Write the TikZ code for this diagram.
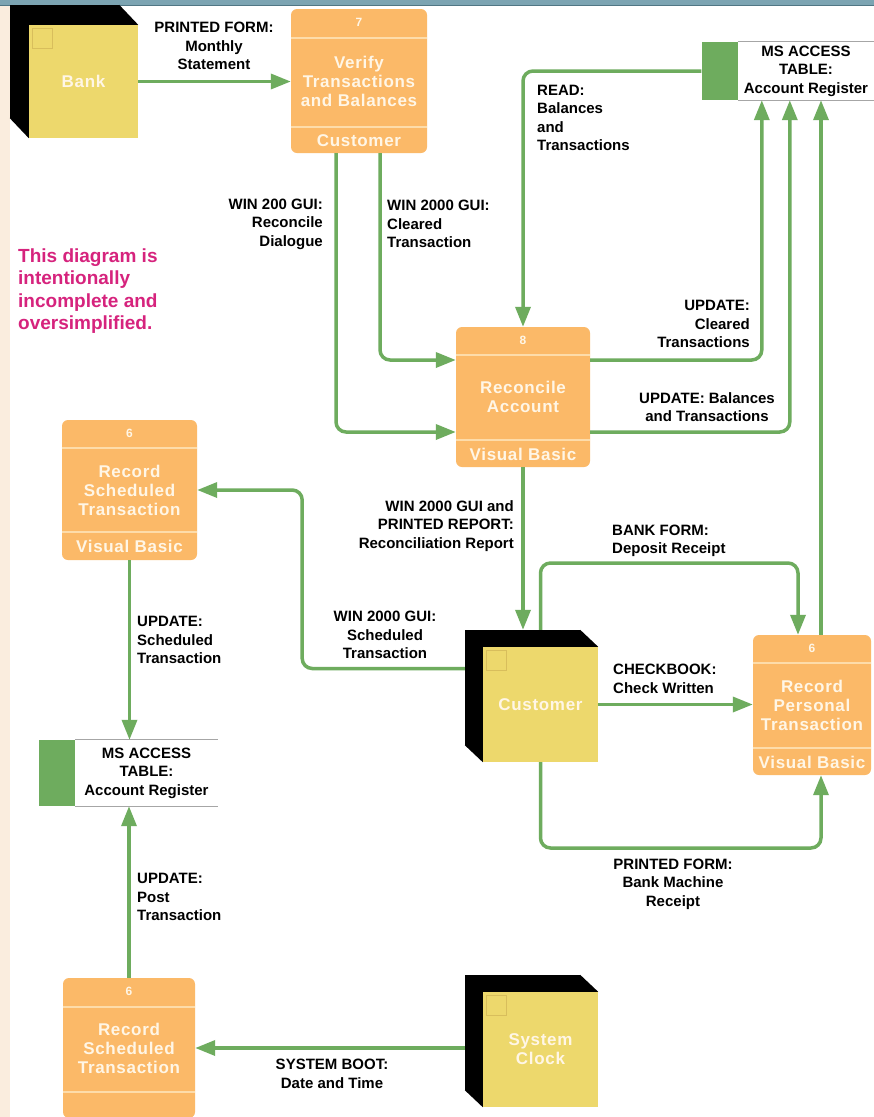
\documentclass[tikz,border=0pt]{standalone}
\usepackage{fontspec}
\setmainfont{Liberation Sans}
\newfontfamily\procfont[LetterSpace=4]{Liberation Sans}
\usepackage{tikz}
\usetikzlibrary{arrows.meta,backgrounds}

\definecolor{procfill}{RGB}{251,185,104}
\definecolor{procline}{RGB}{253,220,170}
\definecolor{proctext}{RGB}{255,246,230}
\definecolor{entfill}{RGB}{237,216,108}
\definecolor{entbox}{RGB}{216,190,92}
\definecolor{flowgreen}{RGB}{110,172,94}
\definecolor{notepink}{RGB}{214,35,125}
\definecolor{bandblue}{RGB}{124,164,178}
\definecolor{bandline}{RGB}{80,118,132}
\definecolor{leftbeige}{RGB}{250,237,222}

\begin{document}
\begin{tikzpicture}[x=1pt,y=-1pt,
  every node/.style={inner sep=0pt},
  lbl/.style={font=\fontsize{15}{18.5}\selectfont\bfseries, text=black},
  note/.style={font=\fontsize{19}{22.3}\selectfont\bfseries, text=notepink, align=left},
  proc/.style={fill=procfill, rounded corners=6pt},
  ptext/.style={font=\procfont\fontsize{17}{19}\selectfont\bfseries, text=proctext, align=center},
  pnum/.style={font=\fontsize{12}{14}\selectfont\bfseries, text=proctext},
  divide/.style={draw=procline, line width=1.5pt},
  entfront/.style={fill=entfill, minimum width=115pt, minimum height=115pt, font=\procfont\fontsize{17}{19}\selectfont\bfseries, text=proctext, align=center},
  entback/.style={fill=black, minimum width=115pt, minimum height=115pt},
  storebox/.style={lbl, align=center},
  storetab/.style={fill=flowgreen, minimum width=36pt},
  storeline/.style={draw=gray!70, line width=0.8pt},
  flow/.style={draw=flowgreen, line width=3.5pt, rounded corners=10pt, -{Triangle[length=20pt,width=15pt]}}
]
\useasboundingbox (0,0) rectangle (874,1117);
\clip (0,0) rectangle (874,1117);

\begin{scope}[on background layer]
\fill[white] (0,0) rectangle (874,1117);
\fill[leftbeige] (0,0) rectangle (10,1117);
\fill[bandblue] (0,0) rectangle (874,5);
\draw[bandline, line width=1pt] (0,5.5) -- (874,5.5);
\end{scope}

\node[entfront, minimum width=109pt, minimum height=113pt] (bank) at (83.5,81.5) {Bank};
\node[entfront] (cust) at (540.5,704.5) {Customer};
\node[entfront] (clk) at (540.5,1049.5) {System\\Clock};
\draw[entbox, line width=1pt] ([shift={(4,4)}]bank.north west) rectangle ++(20,20);
\draw[entbox, line width=1pt] ([shift={(4,4)}]cust.north west) rectangle ++(20,20);
\draw[entbox, line width=1pt] ([shift={(4,4)}]clk.north west) rectangle ++(20,20);

\begin{scope}[on background layer]
\node[entback, minimum width=109pt, minimum height=113pt] (bankb) at ([shift={(-19,-20)}]bank.center) {};
\fill (bankb.north east) -- (bank.north east) -- (bank.south west) -- (bankb.south west) -- cycle;
\node[entback] (custb) at ([shift={(-18,-17)}]cust.center) {};
\fill (custb.north east) -- (cust.north east) -- (cust.south west) -- (custb.south west) -- cycle;
\node[entback] (clkb) at ([shift={(-18,-17)}]clk.center) {};
\fill (clkb.north east) -- (clk.north east) -- (clk.south west) -- (clkb.south west) -- cycle;
\end{scope}

\node[proc, minimum width=136pt, minimum height=144pt] (p7) at (359,81) {};
\draw[divide] ([yshift=-29pt]p7.north west) -- ([yshift=-29pt]p7.north east);
\draw[divide] ([yshift=26pt]p7.south west) -- ([yshift=26pt]p7.south east);
\node[pnum] (p7num) at ([yshift=-14pt]p7.north) {7};
\node[ptext] (p7txt) at (p7.center) {Verify\\Transactions\\and Balances};
\node[ptext] (p7foot) at ([yshift=13pt]p7.south) {Customer};

\node[proc, minimum width=134pt, minimum height=140pt] (p8) at (523,397) {};
\draw[divide] ([yshift=-28pt]p8.north west) -- ([yshift=-28pt]p8.north east);
\draw[divide] ([yshift=27pt]p8.south west) -- ([yshift=27pt]p8.south east);
\node[pnum] (p8num) at ([yshift=-14pt]p8.north) {8};
\node[ptext] (p8txt) at (p8.center) {Reconcile\\Account};
\node[ptext] (p8foot) at ([yshift=13pt]p8.south) {Visual Basic};

\node[proc, minimum width=135pt, minimum height=140pt] (p6a) at (129.5,490) {};
\draw[divide] ([yshift=-28pt]p6a.north west) -- ([yshift=-28pt]p6a.north east);
\draw[divide] ([yshift=28pt]p6a.south west) -- ([yshift=28pt]p6a.south east);
\node[pnum] (p6anum) at ([yshift=-14pt]p6a.north) {6};
\node[ptext] (p6atxt) at (p6a.center) {Record\\Scheduled\\Transaction};
\node[ptext] (p6afoot) at ([yshift=14pt]p6a.south) {Visual Basic};

\node[proc, minimum width=118pt, minimum height=140pt] (p6b) at (812,705) {};
\draw[divide] ([yshift=-28pt]p6b.north west) -- ([yshift=-28pt]p6b.north east);
\draw[divide] ([yshift=27pt]p6b.south west) -- ([yshift=27pt]p6b.south east);
\node[pnum] (p6bnum) at ([yshift=-14pt]p6b.north) {6};
\node[ptext] (p6btxt) at (p6b.center) {Record\\Personal\\Transaction};
\node[ptext] (p6bfoot) at ([yshift=13pt]p6b.south) {Visual Basic};

\node[proc, minimum width=132pt, minimum height=140pt] (p6c) at (129,1048) {};
\draw[divide] ([yshift=-29pt]p6c.north west) -- ([yshift=-29pt]p6c.north east);
\draw[divide] ([yshift=26pt]p6c.south west) -- ([yshift=26pt]p6c.south east);
\node[pnum] (p6cnum) at ([yshift=-14pt]p6c.north) {6};
\node[ptext] (p6ctxt) at (p6c.center) {Record\\Scheduled\\Transaction};

\node[storebox, minimum width=136pt, minimum height=58pt] (stT) at (806,71) {MS ACCESS\\TABLE:\\Account Register};
\node[storetab, minimum height=58pt, anchor=north east] (stTtab) at (stT.north west) {};
\draw[storeline] (stT.north west) -- (stT.north east) (stT.south west) -- (stT.south east);

\node[storebox, minimum width=143pt, minimum height=66pt] (stL) at (146.5,773) {MS ACCESS\\TABLE:\\Account Register};
\node[storetab, minimum height=66pt, anchor=north east] (stLtab) at (stL.north west) {};
\draw[storeline] (stL.north west) -- (stL.north east) (stL.south west) -- (stL.south east);

\coordinate (depo) at (798,563);
\coordinate (rcpt) at (821,848);

\draw[flow] (bank.east) -- (bank.east -| p7.west);
\draw[flow] ([xshift=21pt]p7.south) |- ([yshift=37pt]p8.west);
\draw[flow] ([xshift=-23pt]p7.south) |- ([yshift=-35pt]p8.west);
\draw[flow] (stTtab.west) -| (p8.north);
\draw[flow] ([yshift=37pt]p8.east) -| ([xshift=24pt]stT.south west);
\draw[flow] ([yshift=-35pt]p8.east) -| ([xshift=52pt]stT.south west);
\draw[flow] ([xshift=9pt]p6b.north) -- ([xshift=9pt]p6b.north |- stT.south);
\draw[flow] (p8.south) -- (p8.south |- custb.north);
\draw[flow] ([yshift=19pt]custb.west) -| ([xshift=105pt]p6a.east) -- (p6a.east);
\draw[flow] (cust.north |- custb.north) |- (depo) -- ([xshift=-14pt]p6b.north);
\draw[flow] (cust.east) -- (cust.east -| p6b.west);
\draw[flow] (cust.south) |- (rcpt) -- ([xshift=9pt]p6b.south);
\draw[flow] (p6a.south) -- (p6a.south |- stL.north);
\draw[flow] (p6c.north) -- (p6c.north |- stL.south);
\draw[flow] (clkb.west |- p6c.east) -- (p6c.east);

\node[lbl, align=center] (lMonthly) at (214,46) {PRINTED FORM:\\Monthly\\Statement};
\node[lbl, align=right, anchor=east] (lDialog) at (323,224) {WIN 200 GUI:\\Reconcile\\Dialogue};
\node[lbl, align=left, anchor=west] (lCleared) at (387,224) {WIN 2000 GUI:\\Cleared\\Transaction};
\node[lbl, align=left, anchor=west] (lRead) at (537,118) {READ:\\Balances\\and\\Transactions};
\node[lbl, align=right, anchor=east] (lUpdC) at (750,324) {UPDATE:\\Cleared\\Transactions};
\node[lbl, align=center] (lUpdB) at (707,407) {UPDATE: Balances\\and Transactions};
\node[lbl, align=right, anchor=east] (lRecRep) at (514,526) {WIN 2000 GUI and\\PRINTED REPORT:\\Reconciliation Report};
\node[lbl, align=left, anchor=west] (lDepo) at (612,541) {BANK FORM:\\Deposit Receipt};
\node[lbl, align=center] (lSched) at (385,635) {WIN 2000 GUI:\\Scheduled\\Transaction};
\node[lbl, align=left, anchor=west] (lUpdS) at (137,640) {UPDATE:\\Scheduled\\Transaction};
\node[lbl, align=left, anchor=west] (lCheck) at (613,679) {CHECKBOOK:\\Check Written};
\node[lbl, align=center] (lRcpt) at (673,884) {PRINTED FORM:\\Bank Machine\\Receipt};
\node[lbl, align=left, anchor=west] (lPost) at (137,897) {UPDATE:\\Post\\Transaction};
\node[lbl, align=center] (lBoot) at (332,1074) {SYSTEM BOOT:\\Date and Time};
\node[note, anchor=west] (note) at (18,291) {This diagram is\\intentionally\\incomplete and\\oversimplified.};
\end{tikzpicture}
\end{document}
